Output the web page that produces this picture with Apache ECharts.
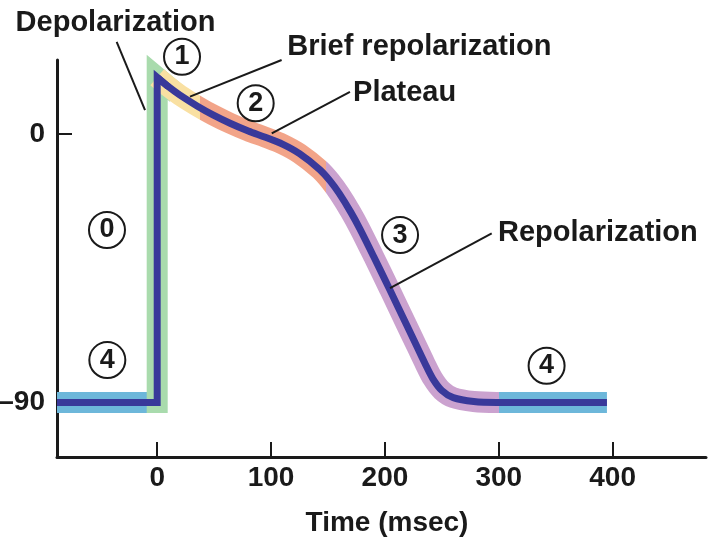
<!DOCTYPE html>
<html>
<head>
<meta charset="utf-8">
<script src="https://cdn.jsdelivr.net/npm/echarts@6/dist/echarts.min.js"></script>
<style>
html,body{margin:0;padding:0;background:#fff;}
#chart{width:712px;height:544px;}
</style>
</head>
<body>
<div id="chart"></div>
<script>
// ---- data (time in ms, membrane potential in mV) ----
const xTicks = [0, 100, 200, 300, 400];
const yTicks = [0, -90];
const restTime = [-88, 0];
const restVoltage = [-90, -90];
const upstrokeTime = [0, 0];
const upstrokeVoltage = [-90, 19];
const curveTime = [0, 10, 20, 35, 49, 64, 80, 95, 110, 125, 143, 152, 160, 170, 178, 190, 204, 219, 228, 235, 242, 250, 260, 278, 298, 395];
const curveVoltage = [19, 15.8, 13.0, 9.4, 6.4, 3.6, 1.0, -1.1, -3.4, -6.6, -12.0, -15.8, -20.0, -26.2, -31.8, -41.0, -52.0, -64.0, -71.2, -76.8, -82.0, -86.0, -88.4, -89.7, -90.0, -90.0];
// phase boundaries (ms) for the coloured band
const phaseBounds = [38, 148, 300];
// annotations
const phaseNumbers = ['1', '2', '0', '4', '3', '4'];
const phaseNumberAt = [[21.8, 25.9], [86.5, 10.3], [-44.1, -32.2], [-43.8, -75.8], [213.3, -33.9], [342, -77.7]];
const calloutText = ['Depolarization', 'Brief repolarization', 'Plateau', 'Repolarization'];
const calloutAt = [[-36.6, 37.2], [114.2, 29.2], [172, 13.7], [299.3, -33.2]];
const calloutAlign = ['center', 'left', 'left', 'left'];
const leaderFrom = [[-35.6, 30.9], [28.8, 12.5], [100.6, 0.2], [204.5, -51.7]];
const leaderTo = [[-10.7, 8.0], [109.3, 24.8], [169.3, 14.1], [293.8, -33.3]];

// ---- styles ----
const C = {
  dark: '#39399a', blue: '#6db7da', green: '#a9dbad', yellow: '#f9e0a2',
  salmon: '#f2a489', lilac: '#cba2cf', ink: '#1a1a1a'
};
const FONT = "'Liberation Sans', Arial, sans-serif";
const zip = (a, b) => a.map((v, i) => [v, b[i]]);

const curve = zip(curveTime, curveVoltage);
const rest = zip(restTime, restVoltage);
const upstroke = zip(upstrokeTime, upstrokeVoltage);
const cornerLead = [curve[1]];
const SMOOTH = 0.3;

const chart = echarts.init(document.getElementById('chart'), null, {renderer: 'canvas'});
chart.setOption({
  animation: false,
  backgroundColor: '#fff',
  grid: {left: 57, right: 6, top: 60, bottom: 87, containLabel: false, outerBoundsMode: 'none'},
  xAxis: {
    type: 'value', min: -88, max: 482,
    splitLine: {show: false},
    axisLine: {show: true, onZero: false, lineStyle: {color: C.ink, width: 3}},
    axisTick: {show: true, inside: true, length: 15, customValues: xTicks, lineStyle: {color: C.ink, width: 2}},
    axisLabel: {customValues: xTicks, margin: 7, color: C.ink, fontSize: 28, fontWeight: 'bold', fontFamily: FONT},
    name: 'Time (msec)', nameLocation: 'middle', nameGap: 52,
    nameTextStyle: {color: C.ink, fontSize: 28, fontWeight: 'bold', fontFamily: FONT, padding: [0, 0, 0, 11]}
  },
  yAxis: {
    type: 'value', min: -108.3, max: 24.8,
    splitLine: {show: false},
    axisLine: {show: true, onZero: false, lineStyle: {color: C.ink, width: 3}},
    axisTick: {show: true, inside: true, length: 15, customValues: yTicks, lineStyle: {color: C.ink, width: 2}},
    axisLabel: {customValues: yTicks, margin: 12, color: C.ink, fontSize: 28, fontWeight: 'bold', fontFamily: FONT,
      formatter: v => (v < 0 ? '\u2013' + Math.abs(v) : String(v))}
  },
  visualMap: [{
    show: false, type: 'piecewise', seriesIndex: 2, dimension: 0,
    pieces: [
      {lt: phaseBounds[0], color: C.yellow},
      {gte: phaseBounds[0], lt: phaseBounds[1], color: C.salmon},
      {gte: phaseBounds[1], lt: phaseBounds[2], color: C.lilac},
      {gte: phaseBounds[2], color: C.blue}
    ]
  }],
  series: [
    {type: 'line', data: rest, showSymbol: false, silent: true, z: 1,
      lineStyle: {color: C.blue, width: 21, cap: 'butt'}},
    {type: 'line', data: upstroke.concat(cornerLead), showSymbol: false, silent: true, z: 1,
      lineStyle: {color: C.green, width: 21, cap: 'square', join: 'miter'}},
    {type: 'line', data: curve, smooth: SMOOTH, showSymbol: false, silent: true, z: 2,
      lineStyle: {width: 21, cap: 'butt'}},
    {type: 'line', data: rest.concat(upstroke.slice(1), cornerLead), showSymbol: false, silent: true, z: 3,
      lineStyle: {color: C.dark, width: 7, cap: 'butt', join: 'miter'}},
    {type: 'line', data: curve, smooth: SMOOTH, showSymbol: false, silent: true, z: 3,
      lineStyle: {color: C.dark, width: 7, cap: 'butt'}},
    {type: 'lines', coordinateSystem: 'cartesian2d', clip: false, silent: true, z: 4,
      lineStyle: {color: C.ink, width: 2, opacity: 1, curveness: 0},
      data: leaderFrom.map((p, i) => ({coords: [p, leaderTo[i]]}))},
    {type: 'scatter', clip: false, silent: true, z: 5, symbol: 'circle', symbolSize: 36,
      itemStyle: {color: 'rgba(255,255,255,0)', borderColor: C.ink, borderWidth: 2, opacity: 1},
      label: {show: true, position: 'inside', formatter: p => p.data.name, color: C.ink,
        textBorderWidth: 0, opacity: 1,
        fontSize: 27, fontWeight: 'bold', fontFamily: FONT},
      data: phaseNumberAt.map((p, i) => ({value: p, name: phaseNumbers[i]}))},
    {type: 'scatter', clip: false, silent: true, z: 6, symbolSize: 0,
      itemStyle: {opacity: 1},
      data: calloutAt.map((p, i) => ({
        value: p, name: calloutText[i],
        label: {show: true, position: calloutAlign[i] === 'left' ? 'right' : 'inside', distance: 0,
          align: calloutAlign[i], verticalAlign: 'middle', formatter: calloutText[i], color: C.ink,
          textBorderWidth: 0, opacity: 1,
          fontSize: 29, fontWeight: 'bold', fontFamily: FONT}
      }))}
  ]
});
</script>
</body>
</html>
